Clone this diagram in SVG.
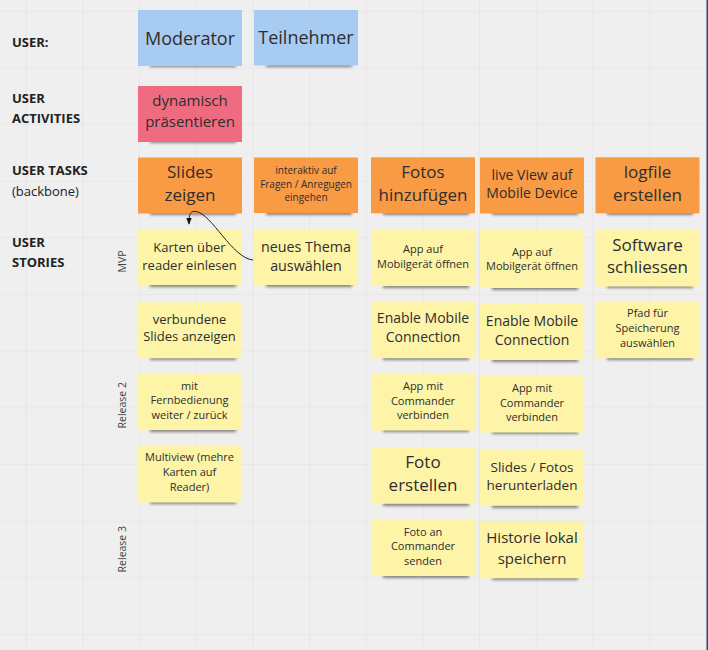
<svg xmlns="http://www.w3.org/2000/svg" width="708" height="650" viewBox="0 0 708 650">
<defs>
<filter id="sh" x="-20%" y="-100%" width="140%" height="300%"><feGaussianBlur stdDeviation="1.8"/></filter>
<marker id="ah" viewBox="0 0 10 10" refX="9" refY="5" markerWidth="7" markerHeight="7" orient="auto"><path d="M0,1 L10,5 L0,9 z" fill="#111"/></marker>
<pattern id="grid" x="-30" y="-45" width="56.667" height="56.667" patternUnits="userSpaceOnUse"><path d="M56.667,0 V56.667 M0,56.667 H56.667" fill="none" stroke="#e2e2e2" stroke-width="1.2"/></pattern>
</defs>
<style>
.lbl{font-family:"Open Sans","Liberation Sans",sans-serif;font-weight:bold;font-size:13px;fill:#222}
.lbln{font-family:"Open Sans","Liberation Sans",sans-serif;font-size:13px;fill:#222}
.rel{font-family:"Open Sans","Liberation Sans",sans-serif;font-size:10.5px;fill:#444}
.t{font-family:"Open Sans","Liberation Sans",sans-serif;fill:#2e2e2e;text-anchor:middle}
.shd{fill:#000;opacity:.45;filter:url(#sh)}
.blue{fill:#a8cbf2}.pink{fill:#ee6b80}.orange{fill:#f99a44}.yellow{fill:#fdf4a8}
</style>
<rect width="708" height="650" fill="#efefef"/>
<rect width="708" height="650" fill="url(#grid)"/>
<rect x="706.5" y="0" width="1.5" height="650" fill="#2d4f6e"/>

<g id="labels">
<text class="lbl" x="12" y="47">USER:</text>
<text class="lbl" x="12" y="103">USER</text>
<text class="lbl" x="12" y="123">ACTIVITIES</text>
<text class="lbl" x="12" y="175">USER TASKS</text>
<text class="lbln" x="12" y="196">(backbone)</text>
<text class="lbl" x="12" y="247">USER</text>
<text class="lbl" x="12" y="267">STORIES</text>
<text class="rel" transform="translate(125.5,261.5) rotate(-90)" text-anchor="middle">MVP</text>
<text class="rel" transform="translate(125.5,405.3) rotate(-90)" text-anchor="middle">Release 2</text>
<text class="rel" transform="translate(125.5,549.2) rotate(-90)" text-anchor="middle">Release 3</text>
</g>

<g id="moderator"><rect class="shd" x="150" y="61" width="86" height="6"/><rect class="blue" x="138" y="10" width="104" height="56"/><text class="t" font-size="18" x="190" y="44.5">Moderator</text></g>
<g id="teilnehmer"><rect class="shd" x="266" y="61" width="86" height="6"/><rect class="blue" x="254" y="10" width="104" height="55.5"/><text class="t" font-size="18" x="306" y="44">Teilnehmer</text></g>
<g id="dynamisch"><rect class="shd" x="150" y="137" width="86" height="6"/><rect class="pink" x="138" y="86" width="104" height="56"/><text class="t" font-size="15"><tspan x="190" y="105.5">dynamisch</tspan><tspan x="190" y="127">präsentieren</tspan></text></g>

<g id="slides-zeigen"><rect class="shd" x="150" y="209" width="86" height="6"/><rect class="orange" x="138" y="157.5" width="104" height="56"/><text class="t" font-size="17"><tspan x="190" y="177.8">Slides</tspan><tspan x="190" y="201.1">zeigen</tspan></text></g>
<g id="interaktiv"><rect class="shd" x="266" y="209" width="86" height="6"/><rect class="orange" x="254" y="157.5" width="104" height="55.5"/><text class="t" font-size="10"><tspan x="306" y="174.3">interaktiv auf</tspan><tspan x="306" y="187.8">Fragen / Anregugen</tspan><tspan x="306" y="201.3">eingehen</tspan></text></g>
<g id="fotos-hinzufuegen"><rect class="shd" x="383" y="209" width="86" height="6"/><rect class="orange" x="371" y="157.3" width="104" height="56"/><text class="t" font-size="17"><tspan x="423" y="177.8">Fotos</tspan><tspan x="423" y="201.1">hinzufügen</tspan></text></g>
<g id="live-view"><rect class="shd" x="492" y="209" width="86" height="6"/><rect class="orange" x="480" y="157.5" width="104" height="56"/><text class="t" font-size="14"><tspan x="532" y="180">live View auf</tspan><tspan x="532" y="198.3">Mobile Device</tspan></text></g>
<g id="logfile"><rect class="shd" x="607" y="209" width="86" height="6"/><rect class="orange" x="595.5" y="157.3" width="104" height="56"/><text class="t" font-size="17"><tspan x="647.5" y="177.8">logfile</tspan><tspan x="647.5" y="201.1">erstellen</tspan></text></g>

<g id="karten-ueber-reader"><rect class="shd" x="150" y="281" width="86" height="6"/><rect class="yellow" x="137.5" y="230" width="104" height="55"/><text class="t" font-size="13"><tspan x="189.5" y="252.4">Karten über</tspan><tspan x="189.5" y="269.7">reader einlesen</tspan></text></g>
<g id="neues-thema"><rect class="shd" x="266" y="281" width="86" height="6"/><rect class="yellow" x="254" y="229.5" width="104" height="55.5"/><text class="t" font-size="14.3"><tspan x="306" y="251.8">neues Thema</tspan><tspan x="306" y="271.1">auswählen</tspan></text></g>
<g id="app-auf-1"><rect class="shd" x="383" y="282" width="86" height="6"/><rect class="yellow" x="371" y="229.5" width="104" height="56.5"/><text class="t" font-size="11"><tspan x="423" y="253">App auf</tspan><tspan x="423" y="268">Mobilgerät öffnen</tspan></text></g>
<g id="app-auf-2"><rect class="shd" x="492" y="284" width="86" height="6"/><rect class="yellow" x="480" y="230" width="104" height="58"/><text class="t" font-size="11"><tspan x="532" y="255.7">App auf</tspan><tspan x="532" y="270">Mobilgerät öffnen</tspan></text></g>
<g id="software-schliessen"><rect class="shd" x="607" y="282" width="86" height="6"/><rect class="yellow" x="595.5" y="229.5" width="104" height="57"/><text class="t" font-size="17"><tspan x="647.5" y="251">Software</tspan><tspan x="647.5" y="273.3">schliessen</tspan></text></g>

<g id="verbundene-slides"><rect class="shd" x="150" y="354" width="86" height="6"/><rect class="yellow" x="137.5" y="302.3" width="104" height="56"/><text class="t" font-size="13"><tspan x="189.5" y="324">verbundene</tspan><tspan x="189.5" y="341.4">Slides anzeigen</tspan></text></g>
<g id="enable-mobile-1"><rect class="shd" x="383" y="354" width="86" height="6"/><rect class="yellow" x="371" y="301.7" width="104" height="56.5"/><text class="t" font-size="14"><tspan x="423" y="323.3">Enable Mobile</tspan><tspan x="423" y="342.3">Connection</tspan></text></g>
<g id="enable-mobile-2"><rect class="shd" x="492" y="356" width="86" height="6"/><rect class="yellow" x="480" y="304" width="104" height="56"/><text class="t" font-size="14"><tspan x="532" y="325.7">Enable Mobile</tspan><tspan x="532" y="345">Connection</tspan></text></g>
<g id="pfad-speicherung"><rect class="shd" x="607" y="354" width="86" height="6"/><rect class="yellow" x="595.5" y="301.7" width="104" height="56.5"/><text class="t" font-size="11"><tspan x="647.5" y="317.3">Pfad für</tspan><tspan x="647.5" y="332.3">Speicherung</tspan><tspan x="647.5" y="346.7">auswählen</tspan></text></g>

<g id="fernbedienung"><rect class="shd" x="150" y="426" width="86" height="6"/><rect class="yellow" x="137.5" y="374" width="104" height="56"/><text class="t" font-size="11"><tspan x="189.5" y="389.7">mit</tspan><tspan x="189.5" y="404">Fernbedienung</tspan><tspan x="189.5" y="419">weiter / zurück</tspan></text></g>
<g id="app-mit-1"><rect class="shd" x="383" y="426" width="86" height="6"/><rect class="yellow" x="371" y="374" width="104" height="56.5"/><text class="t" font-size="11"><tspan x="423" y="389.7">App mit</tspan><tspan x="423" y="404.7">Commander</tspan><tspan x="423" y="419">verbinden</tspan></text></g>
<g id="app-mit-2"><rect class="shd" x="492" y="428" width="86" height="6"/><rect class="yellow" x="480" y="376" width="104" height="56.5"/><text class="t" font-size="11"><tspan x="532" y="391.7">App mit</tspan><tspan x="532" y="406.7">Commander</tspan><tspan x="532" y="421">verbinden</tspan></text></g>

<g id="multiview"><rect class="shd" x="150" y="498" width="86" height="6"/><rect class="yellow" x="137.5" y="446" width="104" height="56.5"/><text class="t" font-size="11"><tspan x="189.5" y="461.3">Multiview (mehre</tspan><tspan x="189.5" y="476.3">Karten auf</tspan><tspan x="189.5" y="491.3">Reader)</tspan></text></g>
<g id="foto-erstellen"><rect class="shd" x="383" y="500" width="86" height="6"/><rect class="yellow" x="371" y="447.3" width="104" height="56.5"/><text class="t" font-size="17"><tspan x="423" y="467.8">Foto</tspan><tspan x="423" y="491.1">erstellen</tspan></text></g>
<g id="slides-fotos-herunterladen"><rect class="shd" x="492" y="502" width="86" height="6"/><rect class="yellow" x="480" y="449.3" width="104" height="56.5"/><text class="t" font-size="13.5"><tspan x="532" y="471.5">Slides / Fotos</tspan><tspan x="532" y="489.8">herunterladen</tspan></text></g>

<g id="foto-an-commander"><rect class="shd" x="383" y="572" width="86" height="6"/><rect class="yellow" x="371" y="520" width="104" height="56"/><text class="t" font-size="11"><tspan x="423" y="535.7">Foto an</tspan><tspan x="423" y="550">Commander</tspan><tspan x="423" y="564.7">senden</tspan></text></g>
<g id="historie-lokal"><rect class="shd" x="492" y="574" width="86" height="6"/><rect class="yellow" x="480" y="522" width="104" height="56.3"/><text class="t" font-size="15"><tspan x="532" y="542.7">Historie lokal</tspan><tspan x="532" y="563.7">speichern</tspan></text></g>

<g id="connectors">
<path d="M253,260 C232,258 212,214 196,211.5 C190,210.8 189,214 189,224" fill="none" stroke="#222" stroke-width="1" marker-end="url(#ah)"/>
</g>
</svg>
